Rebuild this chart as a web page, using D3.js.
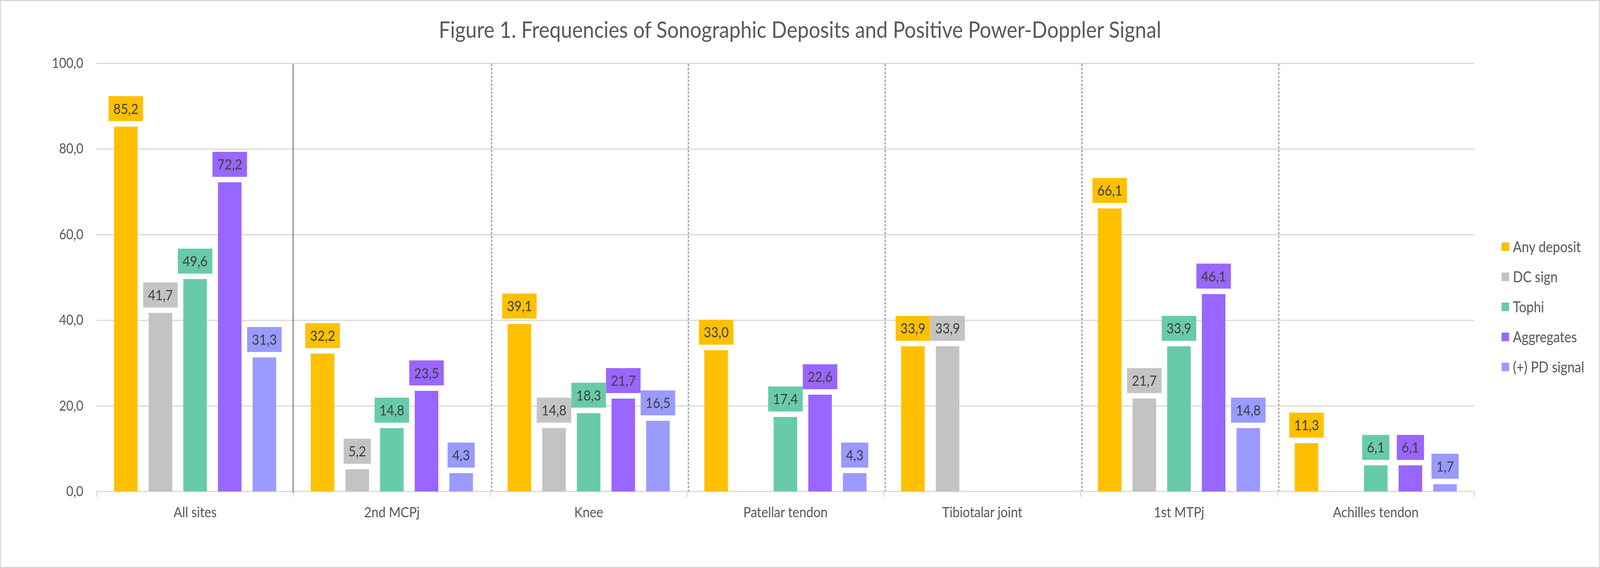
<!DOCTYPE html>
<html>
<head>
<meta charset="utf-8">
<script src="https://cdn.jsdelivr.net/npm/d3@7"></script>
<style>
    html, body { margin: 0; padding: 0; background: #fff; overflow: hidden; }
    #chart svg { display: block; }
    svg text { font-family: Lato, "Open Sans", sans-serif; }
</style>
</head>
<body>
<div id="chart"></div>
<script>
const categories = ["All sites", "2nd MCPj", "Knee", "Patellar tendon", "Tibiotalar joint", "1st MTPj", "Achilles tendon"];
const seriesNames = ["Any deposit", "DC sign", "Tophi", "Aggregates", "(+) PD signal"];
const anyDeposit = [85.2, 32.2, 39.1, 33.0, 33.9, 66.1, 11.3];
const dcSign = [41.7, 5.2, 14.8, null, 33.9, 21.7, null];
const tophi = [49.6, 14.8, 18.3, 17.4, null, 33.9, 6.1];
const aggregates = [72.2, 23.5, 21.7, 22.6, null, 46.1, 6.1];
const pdSignal = [31.3, 4.3, 16.5, 4.3, null, 14.8, 1.7];
const yTicks = [0, 20, 40, 60, 80, 100];
const title = "Figure 1. Frequencies of Sonographic Deposits and Positive Power-Doppler Signal";

const seriesValues = [anyDeposit, dcSign, tophi, aggregates, pdSignal];
const colors = ["#FFC000", "#C4C3C3", "#67CBA8", "#9966FF", "#9A9AFF"];

const W = 4666, H = 1455;
const margin = { top: 162, right: 367, bottom: 196, left: 282 };
const width = W - margin.left - margin.right;
const height = H - margin.top - margin.bottom;

const locale = d3.formatLocale({ decimal: ",", thousands: ".", grouping: [3], currency: ["", ""] });
const fmt = locale.format(".1f");

// the window may be narrower than the chart, so draw in chart units and stretch
const svg = d3.select("#chart")
    .append("svg")
    .attr("viewBox", `0 0 ${W} ${H}`)
    .attr("preserveAspectRatio", "none")
    .style("width", "100vw")
    .style("height", "100vh");

svg.append("rect")
    .attr("x", 1.5)
    .attr("y", 1.5)
    .attr("width", W - 3)
    .attr("height", H - 3)
    .attr("fill", "#fff")
    .attr("stroke", "#d9d9d9")
    .attr("stroke-width", 3);

const chart = svg.append("g")
    .attr("transform", `translate(${margin.left}, ${margin.top})`);

const x0 = d3.scaleBand()
    .domain(categories)
    .range([0, width])
    .padding(0);

const x1 = d3.scaleBand()
    .domain(seriesNames)
    .range([0, x0.bandwidth()])
    .paddingInner(0.32)
    .paddingOuter(0.5);

const yScale = d3.scaleLinear()
    .domain([0, 100])
    .range([height, 0]);

// gridlines
chart.append("g")
    .attr("class", "grid")
    .call(d3.axisLeft(yScale)
        .tickValues(yTicks.slice(1))
        .tickSize(-width)
        .tickFormat(""))
    .call(g => g.select(".domain").remove())
    .call(g => g.selectAll("line").attr("stroke", "#d9d9d9").attr("stroke-width", 3));

// y labels
chart.append("g")
    .call(d3.axisLeft(yScale)
        .tickValues(yTicks)
        .tickSize(0)
        .tickPadding(39)
        .tickFormat(fmt))
    .call(g => g.select(".domain").remove())
    .call(g => g.selectAll("text")
        .attr("fill", "#595959")
        .style("font-size", "36px"));

// category axis
const xAxis = chart.append("g")
    .attr("transform", `translate(0, ${height})`);

xAxis.append("line")
    .attr("x1", 0)
    .attr("x2", width)
    .attr("stroke", "#d9d9d9")
    .attr("stroke-width", 3);

const bounds = categories.map(c => x0(c)).concat([width]);

xAxis.selectAll(".tick-mark")
    .data(bounds)
    .enter()
    .append("line")
    .attr("class", "tick-mark")
    .attr("x1", d => d)
    .attr("x2", d => d)
    .attr("y1", 0)
    .attr("y2", 14)
    .attr("stroke", "#d9d9d9")
    .attr("stroke-width", 3);

xAxis.selectAll(".cat-label")
    .data(categories)
    .enter()
    .append("text")
    .attr("class", "cat-label")
    .attr("x", d => x0(d) + x0.bandwidth() / 2)
    .attr("y", 66)
    .attr("text-anchor", "middle")
    .attr("fill", "#595959")
    .style("font-size", "37px")
    .text(d => d);

// site separators
chart.append("line")
    .attr("x1", bounds[1] - 1)
    .attr("x2", bounds[1] - 1)
    .attr("y1", 3)
    .attr("y2", height + 3)
    .attr("stroke", "#a6a6a6")
    .attr("stroke-width", 5);

chart.selectAll(".sep")
    .data(bounds.slice(2, 7))
    .enter()
    .append("line")
    .attr("class", "sep")
    .attr("x1", d => d + 4)
    .attr("x2", d => d + 4)
    .attr("y1", 2)
    .attr("y2", height)
    .attr("stroke", "#a6a6a6")
    .attr("stroke-width", 4)
    .attr("stroke-dasharray", "6,4");

// bars
const barData = [];
categories.forEach((c, ci) => {
    seriesNames.forEach((s, si) => {
        const v = seriesValues[si][ci];
        if (v != null) barData.push({ cat: c, series: s, si: si, value: v });
    });
});

const bars = chart.selectAll(".bar")
    .data(barData)
    .enter()
    .append("g")
    .attr("class", "bar");

bars.append("rect")
    .attr("x", d => x0(d.cat) + x1(d.series))
    .attr("y", d => yScale(d.value))
    .attr("width", x1.bandwidth())
    .attr("height", d => height - yScale(d.value))
    .attr("fill", d => colors[d.si]);

const boxH = 64, boxGap = 14, padX = 14;

bars.each(function (d) {
    const g = d3.select(this);
    const cx = x0(d.cat) + x1(d.series) + x1.bandwidth() / 2;
    const cy = yScale(d.value) - boxGap - boxH / 2;
    const box = g.append("rect")
        .attr("fill", colors[d.si]);
    const t = g.append("text")
        .attr("x", cx)
        .attr("y", cy)
        .attr("dy", "0.36em")
        .attr("text-anchor", "middle")
        .attr("fill", "#404040")
        .style("font-size", "37px")
        .text(fmt(d.value));
    const tw = t.node().getComputedTextLength();
    box.attr("x", cx - tw / 2 - padX)
        .attr("y", cy - boxH / 2)
        .attr("width", tw + 2 * padX)
        .attr("height", boxH);
});

// title
svg.append("text")
    .attr("x", W / 2)
    .attr("y", 97)
    .attr("text-anchor", "middle")
    .attr("fill", "#595959")
    .style("font-size", "59px")
    .text(title);

// legend
const legend = svg.append("g")
    .attr("transform", "translate(4379, 621)");

const items = legend.selectAll(".item")
    .data(seriesNames)
    .enter()
    .append("g")
    .attr("class", "item")
    .attr("transform", (d, i) => `translate(0, ${i * 77})`);

items.append("rect")
    .attr("width", 22)
    .attr("height", 22)
    .attr("fill", (d, i) => colors[i]);

items.append("text")
    .attr("x", 33)
    .attr("y", 11)
    .attr("dy", "0.36em")
    .attr("fill", "#595959")
    .style("font-size", "38px")
    .text(d => d);
</script>
</body>
</html>
